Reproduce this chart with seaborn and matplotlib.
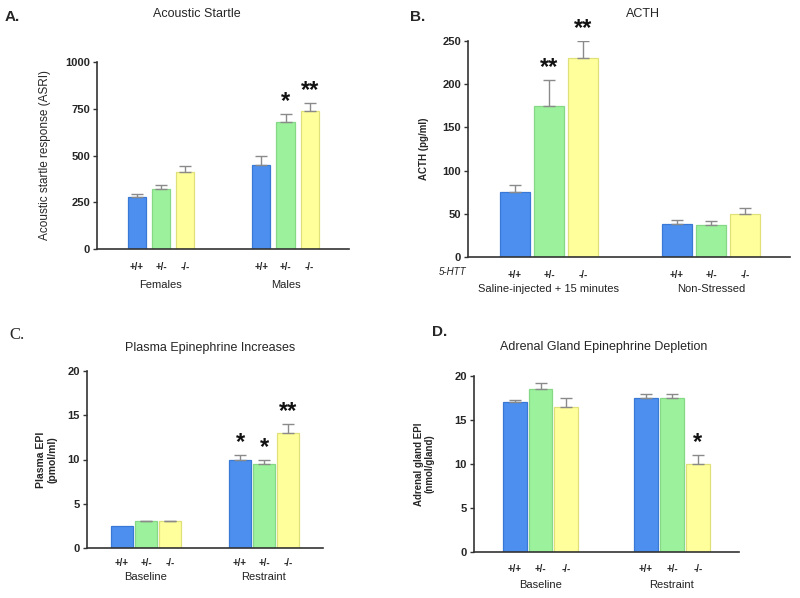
import numpy as np
import pandas as pd
import matplotlib
matplotlib.use('Agg')
import matplotlib.pyplot as plt
import seaborn as sns

# genotype levels (5-HTT)
genotypes = ['+/+', '+/-', '-/-']
colors = ['#4d8fef', '#9cf29c', '#ffff9c']
edges = ['#3a78d6', '#86d886', '#e0e07a']

# A. Acoustic startle
a_groups = ['Females', 'Males']
a_means = [280, 320, 410, 450, 680, 740]
a_err = [15, 20, 35, 50, 40, 40]
a_stars = ['', '', '', '', '*', '**']

# B. ACTH
b_groups = ['Saline-injected + 15 minutes', 'Non-Stressed']
b_means = [75, 175, 230, 38, 37, 50]
b_err = [8, 30, 20, 5, 5, 7]
b_stars = ['', '**', '**', '', '', '']

# C. Plasma epinephrine
c_groups = ['Baseline', 'Restraint']
c_means = [2.5, 3.0, 3.0, 10.0, 9.5, 13.0]
c_err = [0.0, 0.05, 0.05, 0.5, 0.4, 1.0]
c_stars = ['', '', '', '*', '*', '**']

# D. Adrenal gland epinephrine
d_groups = ['Baseline', 'Restraint']
d_means = [17.0, 18.5, 16.5, 17.5, 17.5, 10.0]
d_err = [0.3, 0.7, 1.0, 0.5, 0.5, 1.0]
d_stars = ['', '', '', '', '', '*']

sns.set_style('white')
plt.rcParams['font.family'] = ['Liberation Sans', 'DejaVu Sans']

fig = plt.figure(figsize=(8, 5.98), dpi=100)
W, H = 800, 598


def px_axes(l, t, r, b):
    return fig.add_axes([l / W, 1 - b / H, (r - l) / W, (b - t) / H])


def panel(ax, groups, means, err, stars, width, gap, ylim, yticks, xlim,
          tick_pad, group_off, star_size=17):
    df = pd.DataFrame({'group': np.repeat(groups, 3),
                       'genotype': genotypes * 2,
                       'value': means})
    sns.barplot(data=df, x='group', y='value', hue='genotype',
                hue_order=genotypes, palette=colors, width=width, gap=gap,
                saturation=1, errorbar=None, legend=False, ax=ax, linewidth=0.9)
    centers, labels = [], []
    lookup = {(g, gt): i for i, (g, gt) in enumerate(zip(df['group'], df['genotype']))}
    yr = ylim[1] - ylim[0]
    bar_conts = list(ax.containers)
    for hi, cont in enumerate(bar_conts):
        for gi, bar in enumerate(cont):
            bar.set_edgecolor(edges[hi])
            i = lookup[(groups[gi], genotypes[hi])]
            xc = bar.get_x() + bar.get_width() / 2
            centers.append(xc)
            labels.append(genotypes[hi])
            top = means[i] + err[i]
            if err[i] > 0:
                ax.errorbar(xc, means[i], yerr=[[0], [err[i]]], color='#8a8a8a',
                            capsize=4, elinewidth=1, capthick=1)
            if stars[i]:
                ax.text(xc, top + 0.005 * yr, stars[i], ha='center', va='bottom',
                        fontsize=star_size, fontweight='bold', color='#111')
    ax.set_xticks(centers)
    ax.set_xticklabels(labels, fontsize=7, fontweight='bold')
    ax.tick_params(axis='x', length=0, pad=tick_pad)
    ax.set_ylim(*ylim)
    ax.set_yticks(yticks)
    ax.set_yticklabels([str(t) for t in yticks], fontsize=8, fontweight='bold')
    ax.tick_params(axis='y', length=3, width=1, color='#333', pad=2, left=True)
    ax.set_xlim(*xlim)
    ax.set_xlabel('')
    ax.set_ylabel('')
    for s in ['top', 'right']:
        ax.spines[s].set_visible(False)
    for s in ['left', 'bottom']:
        ax.spines[s].set_color('#333')
        ax.spines[s].set_linewidth(1.2)
    for gi, g in enumerate(groups):
        ax.annotate(g, xy=(gi, 0), xycoords=('data', 'axes fraction'),
                    xytext=(0, -group_off * 0.72), textcoords='offset points',
                    ha='center', va='center', fontsize=8, color='#222')


axA = px_axes(97, 62, 349, 249)
panel(axA, a_groups, a_means, a_err, a_stars, 0.58, 0.25, (0, 1000),
      [0, 250, 500, 750, 1000], (-0.514, 1.51), 9, 36)
axA.text(-0.206, 0.5, 'Acoustic startle response (ASRI)', transform=axA.transAxes,
         rotation=90, ha='center', va='center', fontsize=8.5)

axB = px_axes(468, 41, 790, 257)
panel(axB, b_groups, b_means, b_err, b_stars, 0.63, 0.12, (0, 250),
      [0, 50, 100, 150, 200, 250], (-0.5, 1.488), 9, 32)
axB.text(-0.137, 0.5, 'ACTH (pg/ml)', transform=axB.transAxes,
         rotation=90, ha='center', va='center', fontsize=7, fontweight='bold')

axC = px_axes(87, 371, 323, 548)
panel(axC, c_groups, c_means, c_err, c_stars, 0.61, 0.08, (0, 20),
      [0, 5, 10, 15, 20], (-0.5, 1.5), 7, 29)
axC.text(-0.17, 0.5, 'Plasma EPI\n(pmol/ml)', transform=axC.transAxes,
         rotation=90, ha='center', va='center', fontsize=7.5, fontweight='bold',
         linespacing=1.1)

axD = px_axes(474, 376, 739, 552)
panel(axD, d_groups, d_means, d_err, d_stars, 0.59, 0.08, (0, 20),
      [0, 5, 10, 15, 20], (-0.506, 1.51), 9, 33)
axD.text(-0.189, 0.5, 'Adrenal gland EPI\n(nmol/gland)', transform=axD.transAxes,
         rotation=90, ha='center', va='center', fontsize=7, fontweight='bold',
         linespacing=1.1)

# titles and panel letters
fig.text(197 / W, 1 - 14 / H, 'Acoustic Startle', ha='center', va='center', fontsize=9)
fig.text(643 / W, 1 - 14 / H, 'ACTH', ha='center', va='center', fontsize=9)
fig.text(210 / W, 1 - 348 / H, 'Plasma Epinephrine Increases', ha='center', va='center', fontsize=9)
fig.text(604 / W, 1 - 347 / H, 'Adrenal Gland Epinephrine Depletion', ha='center', va='center', fontsize=9)

fig.text(5 / W, 1 - 17 / H, 'A.', ha='left', va='center', fontsize=11, fontweight='bold')
fig.text(410 / W, 1 - 17 / H, 'B.', ha='left', va='center', fontsize=11, fontweight='bold')
fig.text(9 / W, 1 - 335 / H, 'C.', ha='left', va='center', fontsize=12,
         family=['Liberation Serif', 'DejaVu Serif'])
fig.text(432 / W, 1 - 332 / H, 'D.', ha='left', va='center', fontsize=11, fontweight='bold')

fig.text(453 / W, 1 - 272 / H, '5-HTT', ha='center', va='center', fontsize=7, style='italic')

fig.savefig('out.png', dpi=100)
